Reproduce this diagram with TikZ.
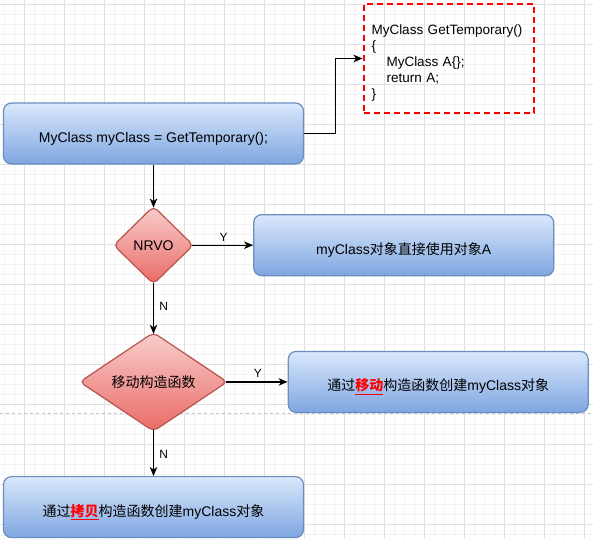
\documentclass[tikz,border=0pt]{standalone}
\usepackage{fontspec}
\setmainfont{Liberation Sans}
\newfontfamily\cjk{Noto Sans CJK SC}
\usepackage{tikz}
\usetikzlibrary{shapes.geometric, arrows.meta, positioning}
\definecolor{cBlueTop}{HTML}{DAE8FC}
\definecolor{cBlueBot}{HTML}{7EA6E0}
\definecolor{cBlueLine}{HTML}{6C8EBF}
\definecolor{cRedTop}{HTML}{F8CECC}
\definecolor{cRedBot}{HTML}{EA6B66}
\definecolor{cRedLine}{HTML}{B85450}
\definecolor{cGridMin}{HTML}{F3F3F3}
\definecolor{cGridMaj}{HTML}{E0E0E0}
\definecolor{cPage}{HTML}{C4C4C4}
\tikzset{
	stepbox/.style={rectangle, rounded corners=8pt, minimum width=300pt, minimum height=61pt, align=center, draw=cBlueLine, line width=1.2pt, top color=cBlueTop, bottom color=cBlueBot, text height=20pt, text depth=2pt, font=\fontsize{14}{17}\selectfont},
	check/.style={diamond, rounded corners=5pt, inner sep=0pt, align=center, draw=cRedLine, line width=1.2pt, top color=cRedTop, bottom color=cRedBot, font=\fontsize{14}{17}\selectfont},
	codebox/.style={rectangle, draw=red, line width=2pt, dash pattern=on 6pt off 4pt, minimum width=170pt, minimum height=109pt, text width=154pt, inner xsep=8pt, align=left, font=\fontsize{13.5}{16}\selectfont},
	% connectors and their Y / N labels
	flow/.style={-{Stealth[length=9pt, width=7.5pt, inset=2.5pt]}, line width=1.2pt},
	yn/.style={font=\fontsize{12}{14}\selectfont},
}
\newcommand{\hl}[1]{{\color{red}\bfseries\underline{#1}}}

\begin{document}
\begin{tikzpicture}[x=1pt, y=-1pt]
	\fill[white] (0,0) rectangle (593,539);
	\useasboundingbox (0,0) rectangle (593,539);
	% grid of the drawing page
	\foreach \gx in {4,14,...,593} \draw[cGridMin, line width=0.8pt] (\gx,0) -- (\gx,539);
	\foreach \gy in {4,14,...,539} \draw[cGridMin, line width=0.8pt] (0,\gy) -- (593,\gy);
	\foreach \gx in {24,64,...,593} \draw[cGridMaj, line width=1pt] (\gx,0) -- (\gx,539);
	\foreach \gy in {4,44,...,539} \draw[cGridMaj, line width=1pt] (0,\gy) -- (593,\gy);
	\draw[cPage, line width=1pt, dash pattern=on 3pt off 3pt] (0,413) -- (593,413);

	\node[stepbox] (call) at (153.5,133.5) {MyClass myClass = GetTemporary();};
	\node[codebox] (code) at (448.5,58.5) {\rule{0pt}{19pt}MyClass GetTemporary()\\
		\{\\
		\hspace*{15pt}MyClass A\{\};\\
		\hspace*{15pt}return A;\\
		\}};
	\node[check, minimum width=80pt, minimum height=78pt, below=41pt of call] (nrvo) {NRVO};
	\node[stepbox, right=59pt of nrvo] (direct) {myClass{\cjk 对象直接使用对象}A};
	\node[check, minimum width=148pt, minimum height=99pt, below=47pt of nrvo] (movec) {{\cjk 移动构造函数}};
	\node[stepbox, right=59.5pt of movec] (bymove) {{\cjk 通过\hl{移动}构造函数创建}myClass{\cjk 对象}};
	\node[stepbox, below=44pt of movec] (bycopy) {{\cjk 通过\hl{拷贝}构造函数创建}myClass{\cjk 对象}};

	\draw[flow] (call.east) -- ++(31,0) |- (code.west);
	\draw[flow, shorten >=-2pt] (call.south) -- (nrvo.north);
	\draw[flow, shorten <=-2pt] (nrvo.east) -- node[yn, above] {Y} (direct.west);
	\draw[flow, shorten <=-2pt, shorten >=-2pt] (nrvo.south) -- node[yn, right, xshift=2pt, pos=0.45] {N} (movec.north);
	\draw[flow, shorten <=-2pt] (movec.east) -- node[yn, above] {Y} (bymove.west);
	\draw[flow, shorten <=-2pt] (movec.south) -- node[yn, right, xshift=2pt] {N} (bycopy.north);
\end{tikzpicture}
\end{document}
